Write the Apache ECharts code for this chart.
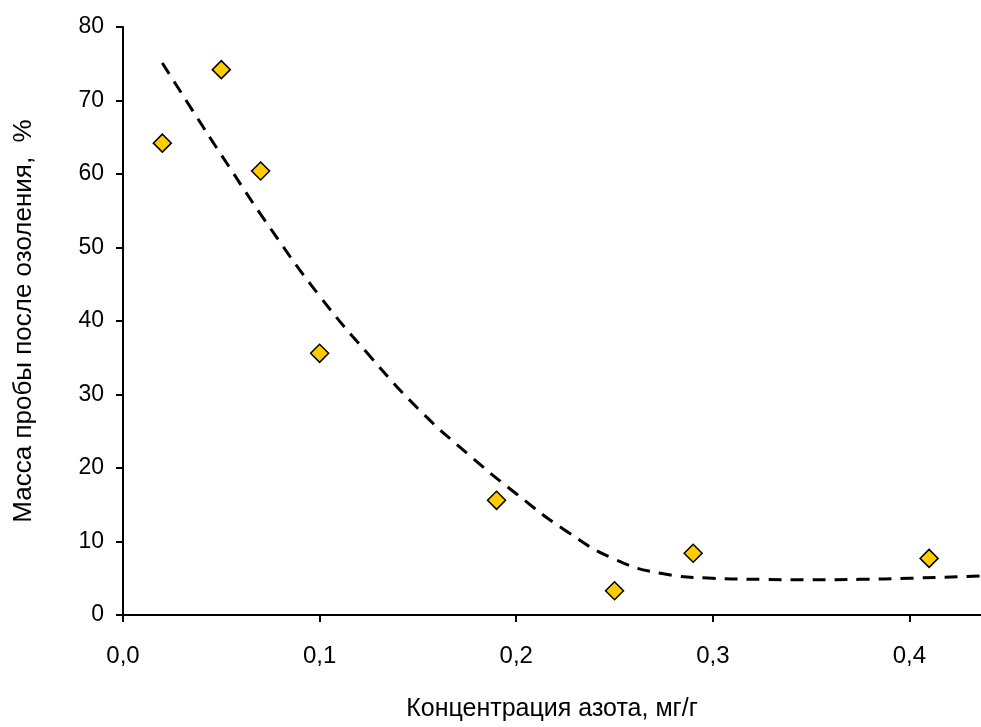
<!DOCTYPE html>
<html>
<head>
<meta charset="utf-8">
<script src="https://cdn.jsdelivr.net/npm/echarts@6/dist/echarts.min.js"></script>
<style>html,body{margin:0;padding:0;background:#fff;}#c{width:981px;height:727px;}</style>
</head>
<body>
<div id="c"></div>
<script>
// Measured points
var pointX = [0.02, 0.05, 0.07, 0.10, 0.19, 0.25, 0.29, 0.41];
var pointY = [64.2, 74.2, 60.4, 35.6, 15.6, 3.3, 8.4, 7.7];
// Trend curve
var trendX = [0.02, 0.035, 0.05, 0.075, 0.10, 0.125, 0.15, 0.175, 0.20, 0.225, 0.25, 0.275, 0.30, 0.325, 0.35, 0.375, 0.40, 0.436];
var trendY = [75.1, 68.8, 62.6, 52.6, 43.4, 35.4, 28.1, 22.0, 16.5, 11.5, 7.6, 5.6, 5.0, 4.85, 4.8, 4.85, 5.0, 5.3];
var xTitle = 'Концентрация азота, мг/г';
var yTitle = 'Масса пробы после озоления,  %';

var pts = pointX.map(function(x, i){ return [x, pointY[i]]; });
var trend = trendX.map(function(x, i){ return [x, trendY[i]]; });
var font = 'Liberation Sans, Arial, sans-serif';

var chart = echarts.init(document.getElementById('c'), null, {renderer: 'canvas'});
chart.setOption({
  animation: false,
  backgroundColor: '#fff',
  grid: {left: 123, top: 27, right: 0, bottom: 112, containLabel: false},
  xAxis: {
    type: 'value', min: 0, max: 0.4364, interval: 0.1,
    name: xTitle, nameLocation: 'middle', nameGap: 82,
    nameTextStyle: {fontFamily: font, fontSize: 25, color: '#000'},
    axisLine: {show: true, onZero: false, lineStyle: {color: '#000', width: 2}},
    axisTick: {show: true, inside: false, length: 7, lineStyle: {color: '#000', width: 2}},
    axisLabel: {fontFamily: font, fontSize: 24, color: '#000', margin: 29,
      showMaxLabel: false,
      formatter: function(v){ return v.toFixed(1).replace('.', ','); }},
    splitLine: {show: false}
  },
  yAxis: {
    type: 'value', min: 0, max: 80, interval: 10,
    name: yTitle, nameLocation: 'middle', nameGap: 86, nameRotate: 90,
    nameTextStyle: {fontFamily: font, fontSize: 26, color: '#000'},
    axisLine: {show: true, lineStyle: {color: '#000', width: 2}},
    axisTick: {show: true, inside: false, length: 7, lineStyle: {color: '#000', width: 2}},
    axisLabel: {fontFamily: font, fontSize: 23, color: '#000', margin: 19},
    splitLine: {show: false}
  },
  series: [
    {
      type: 'line', data: trend, smooth: 0.5, showSymbol: false, symbol: 'none',
      lineStyle: {color: '#000', width: 3, type: [13, 9]}, z: 2
    },
    {
      type: 'scatter', data: pts, symbol: 'diamond', symbolSize: [18, 18],
      itemStyle: {color: '#FFCC00', borderColor: '#000', borderWidth: 1.5, opacity: 1}, z: 3
    }
  ]
});
</script>
</body>
</html>
